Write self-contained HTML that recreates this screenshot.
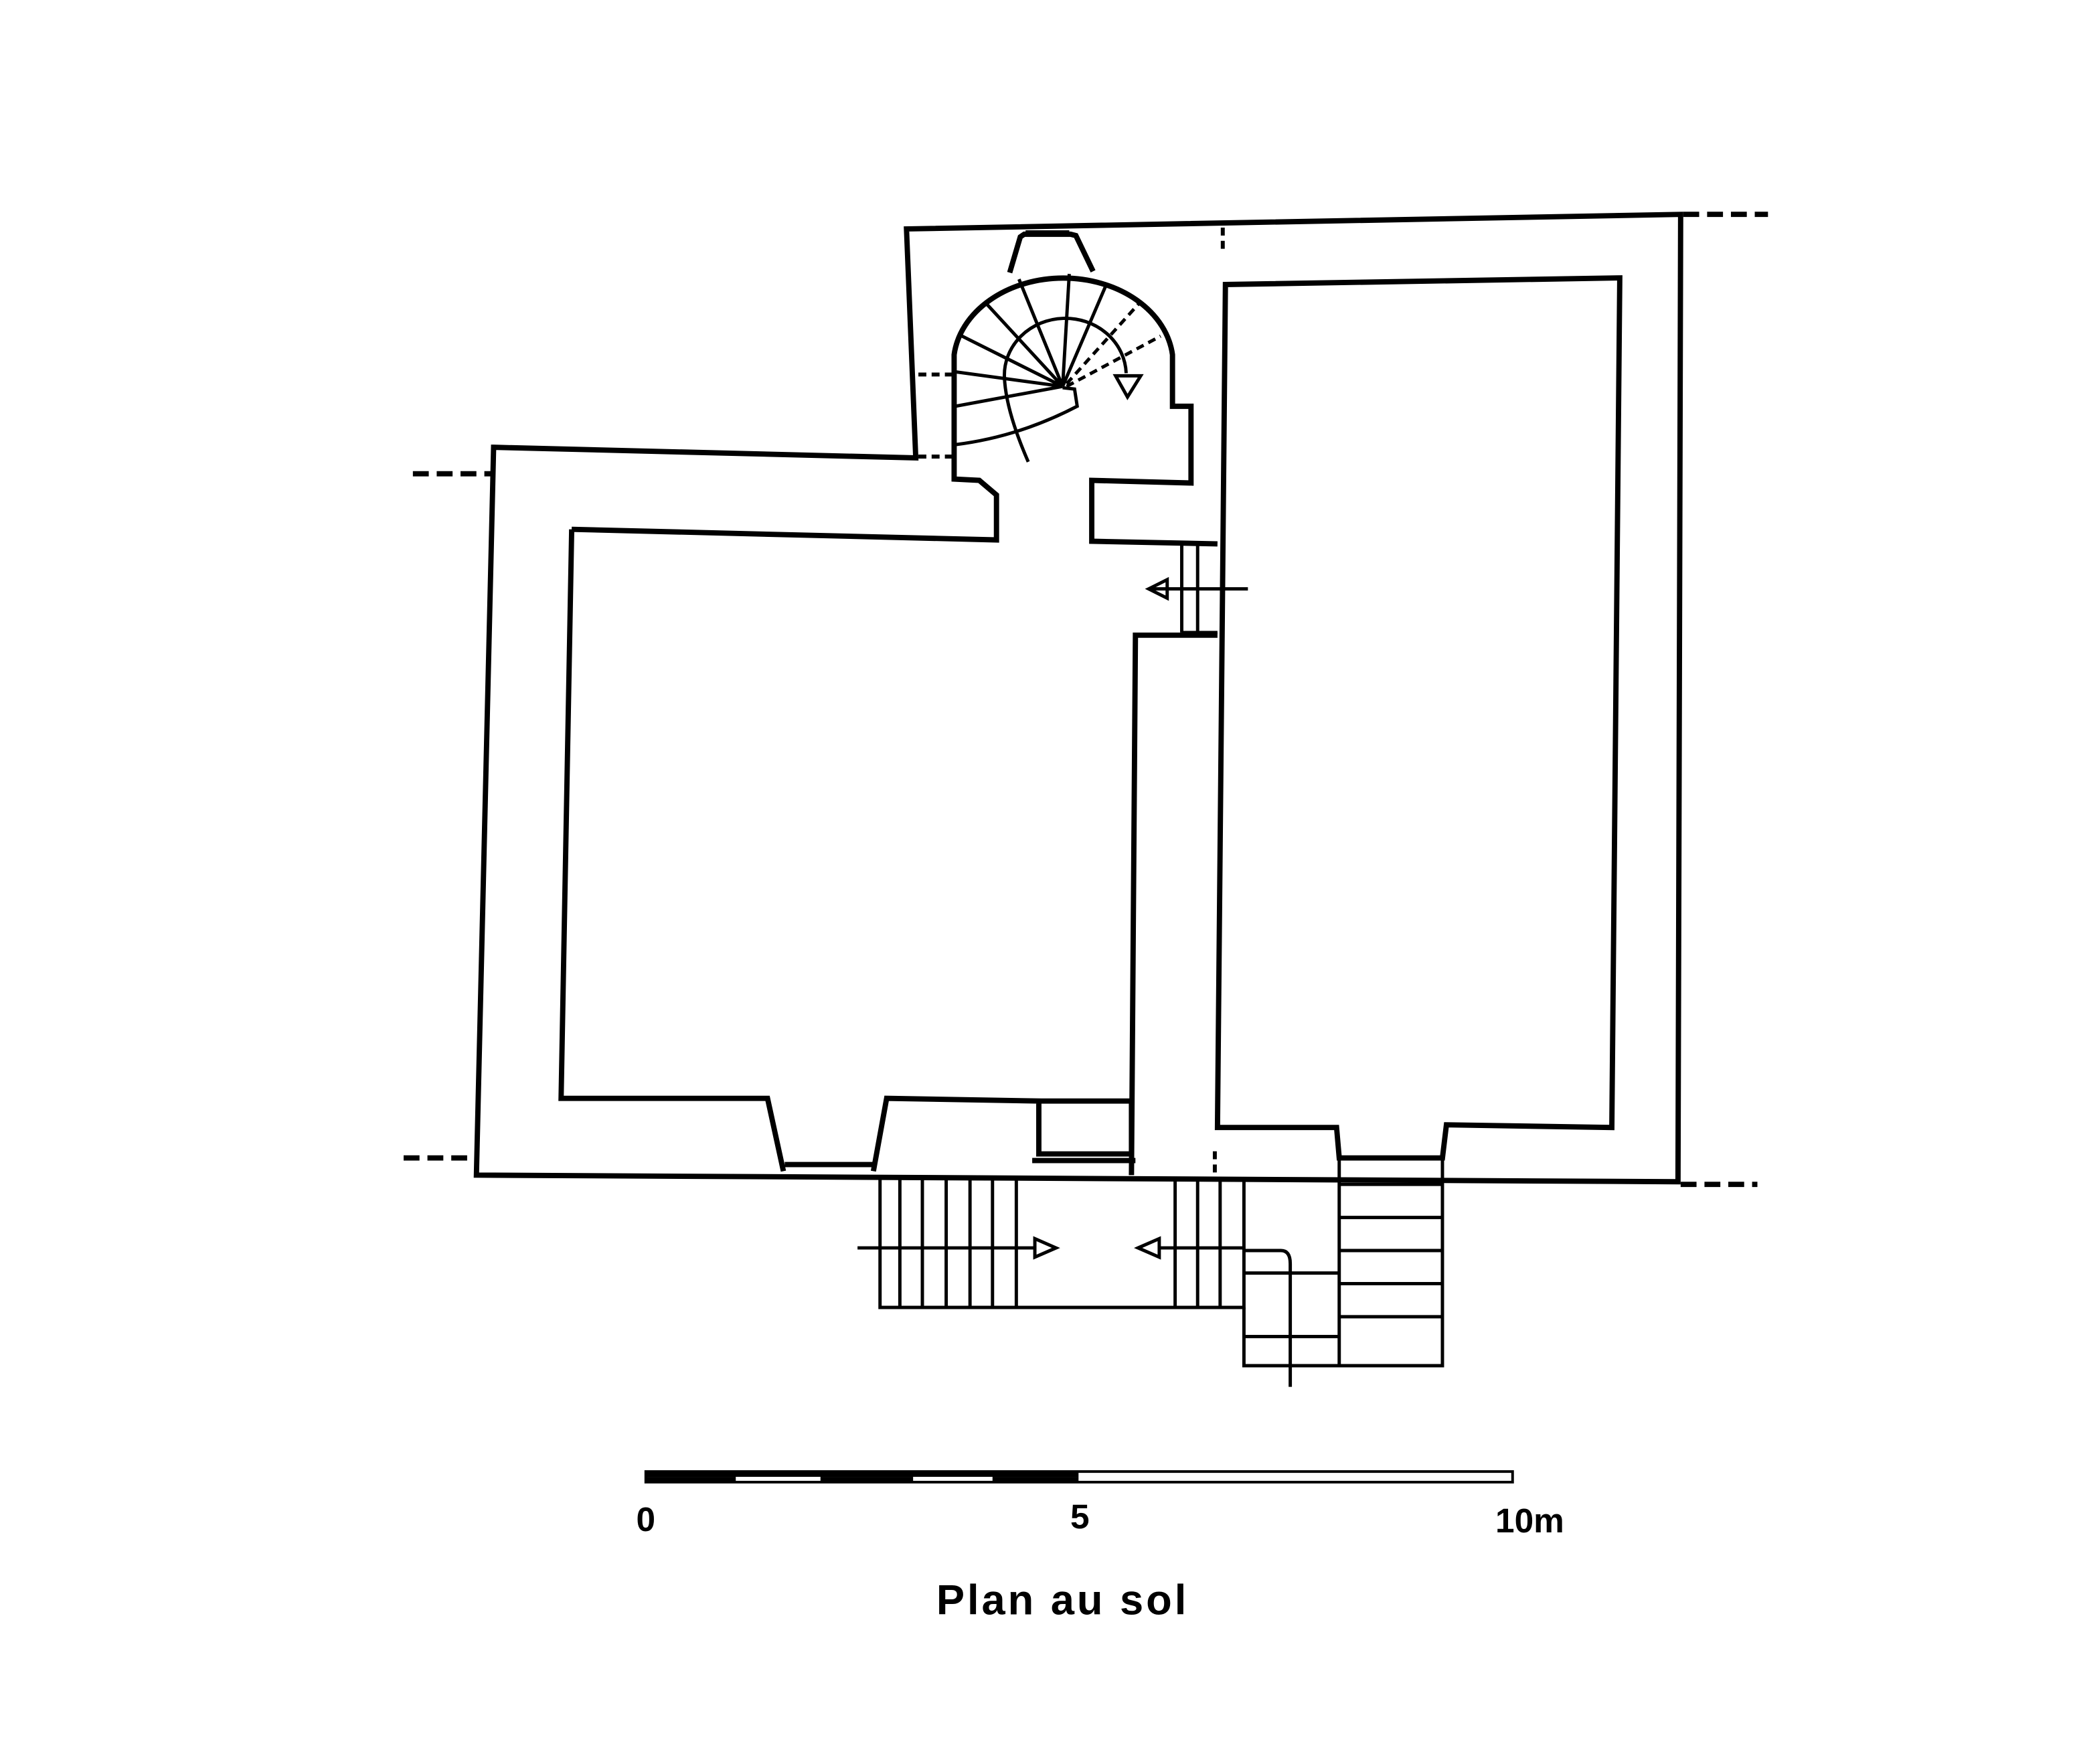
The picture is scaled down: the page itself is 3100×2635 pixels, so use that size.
<!DOCTYPE html>
<html><head><meta charset="utf-8"><style>
html,body{margin:0;padding:0;background:#fff;}
svg{display:block;}
</style></head><body>
<svg width="3100" height="2635" viewBox="0 0 1568 1333" preserveAspectRatio="none" xmlns="http://www.w3.org/2000/svg">
<rect width="1568" height="1333" fill="#fff"/>
<g fill="none" stroke="#000" stroke-width="4" stroke-linejoin="miter">
<!-- outer wall -->
<path d="M373,338 L692,346 L685,173 L1270,162 L1268,893 L360,888 Z"/>
<!-- stair tower -->
<path d="M432,400 L753,408 L753,374 L740,363 L721,362 L721,268 A83,65 0 0 1 886,268 L886,307 L900,307 L900,365 L825,363 L825,409 L920,411"/>
<path d="M763,206 L771,179 L774,177 L809,177 L813,178 L826,205"/>
<path d="M432,400 L424,830 L580,830 L592,885 M660,885 L670,830 L785,832 L785,872 L855,872 L855,832 L785,832 M855,888 L858,480 L920,480"/>
<!-- right room inner -->
<path d="M926,215 L1224,210 L1218,852 L1093,850 L1090,875 L1012,875 L1010,852 L920,852 Z"/>
<path d="M593,880 L660,880 M780,877 L858,877"/>
</g>
<line x1="775" y1="175" x2="808" y2="175" stroke="#000" stroke-width="2"/>
<!-- spiral stair -->
<g fill="none" stroke="#000" stroke-width="2.5">
<path d="M803,292 L808,207 M803,292 L770,211 M803,292 L744,228 M803,292 L727,254 M803,292 L722,281 M803,292 L722,307 M803,292 L836,215"/>
<path d="M803,293 L812,294 L814,307 Q770,330 722,336"/>
<path d="M777,349 Q760,310 759,285 A45,42 0 0 1 851,282"/>
<path d="M843,284 L862,284 L852,300 Z"/>
<path d="M806,290 L861,229 M806,292 L877,254" stroke-dasharray="6,4"/>
</g>
<!-- dashed stubs -->
<g stroke="#000" stroke-width="4" stroke-dasharray="12,6">
<line x1="312" y1="358" x2="372" y2="358"/>
<line x1="305" y1="875" x2="360" y2="875"/>
<line x1="1272" y1="162" x2="1336" y2="162"/>
<line x1="1270" y1="895" x2="1328" y2="895"/>
</g>
<g stroke="#000" stroke-width="3" stroke-dasharray="6,4">
<line x1="924" y1="172" x2="924" y2="190"/>
<line x1="694" y1="283" x2="720" y2="283"/>
<line x1="694" y1="345" x2="720" y2="345"/>
<line x1="918" y1="870" x2="918" y2="890"/>
</g>
<!-- stairs -->
<g fill="none" stroke="#000" stroke-width="2.5">
<path d="M893,410 L893,478 M905,410 L905,478 M893,478 L920,478"/>
<line x1="868" y1="445" x2="943" y2="445"/><path d="M868,445 L882,438 L882,452 Z"/>
<path d="M665,890 L665,988 L940,988 L940,890"/>
<path d="M680,890V988 M697,890V988 M715,890V988 M733,890V988 M750,890V988 M768,890V988 M888,890V988 M905,890V988 M922,890V988"/>
<line x1="648" y1="943" x2="782" y2="943"/><path d="M782,936 L798,943 L782,950 Z"/>
<line x1="876" y1="943" x2="940" y2="943"/><path d="M860,943 L876,936 L876,950 Z"/>
<path d="M940,945 L968,945 Q975,945 975,955 L975,1048"/>
<path d="M1012,875 L1012,1032 L1090,1032 L1090,875"/>
<path d="M1012,895H1090 M1012,920H1090 M1012,945H1090 M1012,970H1090 M1012,995H1090 M940,988 L940,1032 L1012,1032 M940,962H1012 M940,1010H1012"/>
</g>
<!-- scale bar -->
<rect x="488" y="1112" width="655" height="8" fill="#fff" stroke="#000" stroke-width="2"/>
<rect x="488" y="1112" width="327" height="4" fill="#000"/>
<rect x="488" y="1116" width="68" height="4" fill="#000"/>
<rect x="620" y="1116" width="70" height="4" fill="#000"/>
<rect x="750" y="1116" width="65" height="4" fill="#000"/>
<g font-family="Liberation Sans, sans-serif" font-weight="bold" fill="#000" text-anchor="middle">
<text x="488" y="1157" font-size="26">0</text>
<text x="816" y="1155" font-size="26">5</text>
<text x="1156" y="1158" font-size="26">10m</text>
<text x="803" y="1220" font-size="32" letter-spacing="2">Plan au sol</text>
</g>
</svg>
</body></html>
